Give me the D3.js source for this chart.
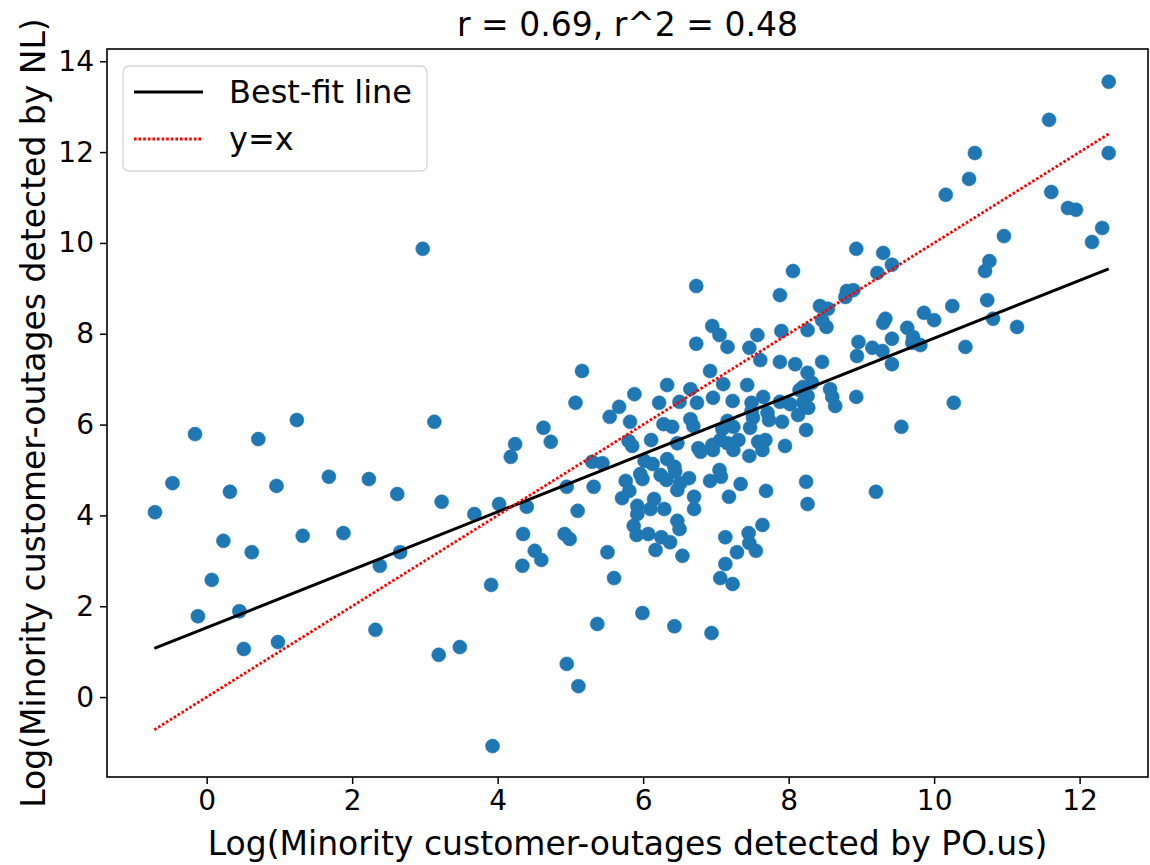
<!DOCTYPE html>
<html>
<head>
<meta charset="utf-8">
<script src="https://cdn.jsdelivr.net/npm/d3@7"></script>
<style>
  body { margin: 0; background: #fff; }
  svg text { font-family: "DejaVu Sans", sans-serif; fill: #000; }
</style>
</head>
<body>
<div id="chart"></div>
<script>
// scatter points: log outages PO.us (x) vs NL (y)
const poX = [
  -0.71, -0.47, -0.16, 0.32, 0.23, 0.07, -0.12, 0.62, 0.71, 0.96,
  0.45, 0.51, 0.98, 1.24, 1.32, 1.68, 1.88, 2.23, 2.38, 2.32,
  2.62, 2.66, 3.13, 3.23, 3.19, 2.97, 3.48, 3.68, 4.02, 4.40,
  4.35, 4.51, 4.60, 4.34, 3.91, 3.93, 4.24, 4.18, 4.63, 4.73,
  4.95, 5.32, 5.10, 4.92, 4.99, 5.51, 5.60, 5.37, 4.95, 5.11,
  5.16, 5.07, 5.88, 5.67, 5.54, 5.82, 5.30, 5.44, 5.76, 5.81,
  5.71, 5.80, 5.85, 5.92, 5.92, 5.87, 5.91, 5.99, 6.43, 6.94,
  6.33, 6.65, 6.22, 6.50, 6.74, 6.28, 6.40, 6.65, 6.69, 6.11,
  6.47, 6.76, 6.79, 6.02, 6.13, 6.33, 6.43, 5.96, 5.99, 6.24,
  6.32, 6.44, 6.51, 6.63, 6.47, 6.15, 6.10, 6.29, 6.07, 6.25,
  6.37, 6.17, 6.47, 6.50, 6.54, 6.70, 6.70, 6.73, 6.95, 7.05,
  6.73, 7.16, 6.92, 6.92, 7.05, 7.07, 7.34, 7.18, 7.69, 7.13,
  7.45, 7.46, 7.55, 7.29, 7.13, 7.06, 7.23, 7.64, 8.26, 8.24,
  7.57, 7.46, 7.61, 7.90, 7.88, 8.09, 7.88, 7.10, 7.43, 6.96,
  7.23, 7.65, 7.49, 7.88, 8.02, 7.16, 7.09, 7.24, 7.49, 7.51,
  7.47, 7.71, 7.73, 7.91, 7.06, 7.16, 7.31, 7.24, 6.95, 6.96,
  7.58, 7.68, 7.64, 7.95, 7.46, 8.24, 8.26, 8.32, 8.20, 8.15,
  8.26, 8.20, 8.27, 8.13, 8.57, 8.60, 8.64, 8.93, 8.43, 8.54,
  8.46, 8.52, 8.26, 8.80, 8.78, 8.89, 8.93, 9.30, 9.42, 9.22,
  8.06, 8.96, 8.94, 9.15, 9.29, 9.30, 9.33, 9.42, 9.42, 9.20,
  8.46, 9.63, 9.71, 9.70, 9.81, 9.86, 10.00, 10.25, 10.73, 10.81,
  11.14, 10.43, 10.27, 9.55, 10.16, 10.48, 10.56, 11.58, 12.40, 12.40,
  11.61, 11.84, 11.95, 12.31, 12.17, 10.96, 10.76, 10.70
];
const nlY = [
  4.07, 4.71, 5.79, 4.52, 3.44, 2.58, 1.78, 3.19, 5.68, 4.65,
  1.89, 1.06, 1.21, 6.10, 3.55, 4.85, 3.61, 4.80, 2.89, 1.48,
  4.47, 3.19, 6.06, 4.30, 0.93, 9.87, 1.10, 4.03, 4.25, 4.19,
  3.59, 3.22, 3.02, 2.89, 2.47, -1.08, 5.57, 5.29, 5.93, 5.62,
  4.63, 4.63, 4.10, 3.59, 3.48, 3.19, 2.62, 1.61, 0.73, 0.24,
  7.18, 6.48, 6.67, 6.39, 6.17, 6.06, 5.18, 5.15, 4.76, 4.54,
  4.38, 5.64, 5.53, 4.21, 4.03, 3.77, 3.57, 1.85, 1.56, 1.41,
  6.87, 6.78, 6.48, 6.50, 6.48, 6.01, 5.95, 6.12, 5.97, 5.66,
  5.59, 5.48, 5.40, 5.20, 5.13, 5.24, 5.07, 4.91, 4.80, 4.89,
  4.78, 4.96, 4.71, 4.82, 4.56, 4.36, 4.14, 4.14, 3.59, 3.52,
  3.41, 3.24, 3.88, 3.70, 3.11, 4.41, 4.14, 9.05, 8.17, 7.97,
  7.78, 7.71, 7.18, 4.76, 5.00, 4.85, 4.69, 4.41, 4.54, 3.52,
  3.61, 3.39, 3.22, 3.19, 2.93, 2.62, 2.49, 3.79, 4.25, 4.74,
  7.97, 7.69, 7.42, 8.06, 7.38, 7.33, 8.85, 6.89, 6.87, 6.59,
  6.52, 6.61, 6.48, 6.50, 6.45, 6.08, 5.90, 5.95, 6.30, 6.15,
  5.93, 6.26, 6.10, 6.06, 5.66, 5.59, 5.66, 5.44, 5.55, 5.44,
  5.62, 5.66, 5.44, 5.53, 5.31, 5.88, 7.14, 6.92, 6.83, 6.76,
  6.63, 6.48, 6.37, 6.21, 6.78, 6.61, 6.41, 6.61, 8.61, 8.55,
  8.30, 8.15, 8.08, 8.94, 8.81, 8.96, 9.87, 9.78, 9.52, 9.34,
  9.38, 7.82, 7.51, 7.69, 7.62, 8.24, 8.33, 7.89, 7.33, 4.52,
  7.38, 8.13, 7.93, 7.80, 7.75, 8.46, 8.30, 8.61, 8.74, 8.33,
  8.15, 7.71, 6.48, 5.95, 11.06, 11.41, 11.98, 12.71, 13.55, 11.98,
  11.12, 10.77, 10.73, 10.33, 10.02, 10.15, 9.60, 9.38
];

// end points of the two reference lines
const fitLine = [[-0.72, 1.07], [12.4, 9.43]];
const identityLine = [[-0.72, -0.72], [12.4, 12.4]];

const xTicks = [0, 2, 4, 6, 8, 10, 12];
const yTicks = [0, 2, 4, 6, 8, 10, 12, 14];
const legendItems = ["Best-fit line", "y=x"];
const title = "r = 0.69, r^2 = 0.48";
const xLabel = "Log(Minority customer-outages detected by PO.us)";
const yLabel = "Log(Minority customer-outages detected by NL)";

const W = 1150, H = 865;
const margin = { top: 49, right: 2, bottom: 88, left: 107 };
const width = W - margin.left - margin.right,
    height = H - margin.top - margin.bottom;

const svg = d3.select("#chart").append("svg")
  .attr("width", W)
  .attr("height", H);

const g = svg.append("g")
  .attr("transform", "translate(" + margin.left + "," + margin.top + ")");

const x = d3.scaleLinear().domain([-1.37, 12.94]).range([0, width]);
const y = d3.scaleLinear().domain([-1.76, 14.27]).range([height, 0]);

// axes
const xAxis = g.append("g")
  .attr("transform", "translate(0," + height + ")")
  .call(d3.axisBottom(x).tickValues(xTicks).tickSize(7).tickPadding(6));
const yAxis = g.append("g")
  .call(d3.axisLeft(y).tickValues(yTicks).tickSize(7).tickPadding(6));

[xAxis, yAxis].forEach(a => {
  a.select(".domain").remove();
  a.selectAll(".tick line").attr("stroke", "#000").attr("stroke-width", 1.5);
  a.selectAll(".tick text").style("font-size", "28px").attr("fill", "#000");
});

// points
g.append("g")
  .selectAll("circle")
  .data(d3.zip(poX, nlY))
  .join("circle")
  .attr("cx", d => x(d[0]))
  .attr("cy", d => y(d[1]))
  .attr("r", 7)
  .attr("fill", "#1f77b4")
  .attr("stroke", "#1f77b4")
  .attr("stroke-width", 0.6);

const line = d3.line().x(d => x(d[0])).y(d => y(d[1]));

g.append("path")
  .datum(fitLine)
  .attr("d", line)
  .attr("fill", "none")
  .attr("stroke", "#000")
  .attr("stroke-width", 3);

g.append("path")
  .datum(identityLine)
  .attr("d", line)
  .attr("fill", "none")
  .attr("stroke", "#ff0000")
  .attr("stroke-width", 2.8)
  .attr("stroke-dasharray", "2.6,2");

// frame
g.append("rect")
  .attr("width", width)
  .attr("height", height)
  .attr("fill", "none")
  .attr("stroke", "#000")
  .attr("stroke-width", 1.6);

// legend
const legend = g.append("g").attr("transform", "translate(16,17)");
legend.append("rect")
  .attr("width", 304)
  .attr("height", 105)
  .attr("rx", 6)
  .attr("fill", "#fff")
  .attr("fill-opacity", 0.8)
  .attr("stroke", "#d6d6d6")
  .attr("stroke-width", 1.3);

legendItems.forEach((label, i) => {
  const ly = 26 + i * 47;
  legend.append("line")
    .attr("x1", 11).attr("x2", 80)
    .attr("y1", ly).attr("y2", ly)
    .attr("stroke", i === 0 ? "#000" : "#ff0000")
    .attr("stroke-width", i === 0 ? 3 : 2.8)
    .attr("stroke-dasharray", i === 0 ? null : "2.6,2");
  legend.append("text")
    .attr("x", 106)
    .attr("y", ly + 11)
    .style("font-size", "32px")
    .text(label);
});

// title and labels
svg.append("text")
  .attr("x", margin.left + width / 2)
  .attr("y", 36)
  .attr("text-anchor", "middle")
  .style("font-size", "33px")
  .text(title);

svg.append("text")
  .attr("x", margin.left + width / 2)
  .attr("y", 855)
  .attr("text-anchor", "middle")
  .style("font-size", "33px")
  .text(xLabel);

svg.append("text")
  .attr("transform", "translate(45," + (margin.top + height / 2) + ") rotate(-90)")
  .attr("text-anchor", "middle")
  .style("font-size", "33px")
  .text(yLabel);
</script>
</body>
</html>
